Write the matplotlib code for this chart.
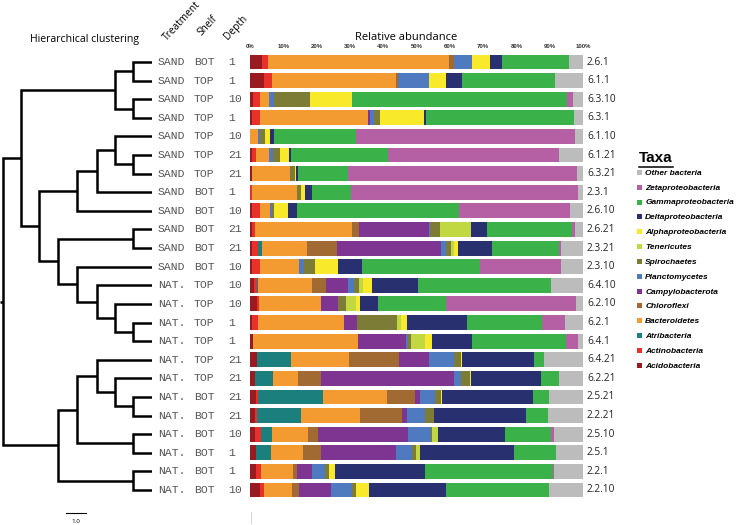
import numpy as np
import matplotlib.pyplot as plt
from matplotlib.lines import Line2D
import matplotlib.transforms as mtransforms

# sample labels, top to bottom (same order as the dendrogram leaves)
treatment = ["SAND"] * 12 + ["NAT."] * 12
shelf = ["BOT", "TOP", "TOP", "TOP", "TOP", "TOP", "TOP", "BOT", "BOT", "BOT", "BOT", "BOT",
         "TOP", "TOP", "TOP", "TOP", "TOP", "TOP", "BOT", "BOT", "BOT", "BOT", "BOT", "BOT"]
depth = ["1", "1", "10", "1", "10", "21", "21", "1", "10", "21", "21", "10",
         "10", "10", "1", "1", "21", "21", "21", "21", "10", "1", "1", "10"]
sample_id = ["2.6.1", "6.1.1", "6.3.10", "6.3.1", "6.1.10", "6.1.21", "6.3.21", "2.3.1",
             "2.6.10", "2.6.21", "2.3.21", "2.3.10", "6.4.10", "6.2.10", "6.2.1", "6.4.1",
             "6.4.21", "6.2.21", "2.5.21", "2.2.21", "2.5.10", "2.5.1", "2.2.1", "2.2.10"]

# relative abundance (%) per taxon, one value per sample
acidobacteria = [3.5, 4.3, 1.0, 0.5, 0, 0.5, 0.5, 0, 0.5, 0.5, 0.7, 0.5,
                 1.3, 2.0, 0.5, 1.0, 2.0, 1.5, 1.7, 1.5, 1.5, 1.8, 1.7, 3.0]
actinobacteria = [2.0, 2.4, 2.0, 2.5, 0, 1.3, 0, 0.5, 2.5, 1.0, 1.8, 2.5,
                  0.7, 0.7, 1.8, 0, 0, 0, 0.8, 0.5, 1.7, 0, 1.6, 1.2]
atribacteria = [0, 0, 0, 0, 0, 0, 0, 0, 0, 0, 1.2, 0,
                0.5, 0, 0, 0, 10.2, 5.5, 19.3, 13.3, 3.3, 4.4, 0, 0]
bacteroidetes = [54.3, 37.1, 2.7, 32.5, 2.3, 3.9, 11.5, 13.5, 3.0, 29.2, 13.3, 11.7,
                 16.2, 18.6, 25.9, 31.5, 17.5, 7.5, 19.4, 17.7, 10.8, 9.6, 9.7, 8.5]
chloroflexi = [1.5, 0.5, 0, 0, 0, 0, 0, 0, 0, 2.0, 9.2, 0,
               4.1, 0, 0, 0, 15.0, 6.8, 8.3, 12.7, 3.0, 5.5, 1.0, 2.1]
campylobacterota = [0, 0, 0, 0.5, 0, 0, 0, 0, 0, 21.0, 31.3, 0,
                    6.7, 5.2, 4.0, 14.3, 9.0, 39.9, 1.5, 1.3, 27.2, 22.5, 4.5, 9.5]
planctomycetes = [5.4, 9.4, 1.5, 1.2, 0.7, 1.3, 0, 0, 0.7, 0.3, 1.5, 1.6,
                  1.8, 0, 0, 0.7, 7.6, 2.1, 4.7, 5.7, 6.8, 4.9, 4.0, 6.2]
spirochaetes = [0, 0, 10.8, 1.8, 1.5, 2.0, 1.5, 1.3, 0.6, 3.0, 1.3, 3.2,
                1.4, 2.3, 12.0, 0.8, 2.2, 2.7, 1.6, 2.5, 0.5, 1.0, 1.2, 1.3]
tenericutes = [0, 0, 0, 0, 0, 0, 0, 0, 0, 9.5, 1.0, 0,
               1.3, 3.0, 1.0, 4.2, 0, 0, 0, 0, 1.7, 1.3, 0, 0]
alphaproteobacteria = [5.3, 5.2, 12.5, 13.2, 1.5, 2.7, 0.3, 1.2, 4.2, 0, 1.2, 7.0,
                       2.7, 1.2, 2.0, 2.2, 0.2, 0.3, 0.5, 0, 0, 0, 1.8, 3.9]
deltaproteobacteria = [3.8, 4.8, 0, 0.8, 1.2, 0.6, 0.7, 2.0, 2.5, 4.6, 10.2, 7.2,
                       13.8, 5.5, 17.9, 12.0, 21.6, 21.2, 27.2, 27.6, 20.2, 28.3, 27.0, 23.3]
gammaproteobacteria = [19.9, 27.8, 64.8, 44.3, 24.5, 29.2, 14.8, 11.8, 48.8, 25.6, 20.0, 35.5,
                       39.8, 20.3, 22.7, 28.1, 2.9, 5.2, 4.8, 6.7, 13.6, 12.7, 38.5, 30.8]
zetaproteobacteria = [0, 0, 1.7, 0, 65.8, 51.4, 69.0, 68.2, 33.2, 1.0, 0.6, 24.3,
                      0, 39.0, 6.7, 3.7, 0, 0, 0, 0, 0.9, 0, 0.3, 0]
other_bacteria = [4.3, 8.5, 3.0, 2.7, 2.5, 7.1, 1.7, 1.5, 4.0, 2.3, 6.7, 6.5,
                  9.7, 2.2, 5.5, 1.5, 11.8, 7.3, 10.2, 10.5, 8.8, 8.0, 8.7, 10.2]

taxa = ["Acidobacteria", "Actinobacteria", "Atribacteria", "Bacteroidetes", "Chloroflexi",
        "Campylobacterota", "Planctomycetes", "Spirochaetes", "Tenericutes",
        "Alphaproteobacteria", "Deltaproteobacteria", "Gammaproteobacteria",
        "Zetaproteobacteria", "Other bacteria"]
colors = ["#9a1b1f", "#e8312b", "#1b7f7e", "#f39a31", "#a06a32", "#7e3591", "#4f7ac0",
          "#7d7c37", "#c2d842", "#f8ea2a", "#29306f", "#3bb14a", "#b55fa4", "#bcbcbc"]
values = [acidobacteria, actinobacteria, atribacteria, bacteroidetes, chloroflexi,
          campylobacterota, planctomycetes, spirochaetes, tenericutes, alphaproteobacteria,
          deltaproteobacteria, gammaproteobacteria, zetaproteobacteria, other_bacteria]

# linkage: (cluster a, cluster b, height), leaves are 0..23, new clusters numbered from 24
linkage = [(0, 1, 0.95), (2, 3, 0.95), (24, 25, 1.85), (5, 6, 0.95), (4, 27, 1.85),
           (28, 7, 2.75), (29, 8, 3.75), (9, 10, 0.95), (14, 15, 0.95), (13, 32, 1.85),
           (12, 33, 2.75), (11, 34, 3.75), (31, 35, 4.7), (30, 36, 5.65), (26, 37, 6.55),
           (18, 19, 0.95), (17, 39, 1.85), (16, 40, 2.75), (20, 21, 0.95), (41, 42, 3.75),
           (22, 23, 0.95), (43, 44, 4.7), (38, 45, 7.45)]

n = len(sample_id)
rows = np.arange(n)

fig = plt.figure(figsize=(7.4, 5.25), dpi=100)
W, H = 740, 525
bot = 1 - 499.3 / H
hgt = 446.6 / H
ax = fig.add_axes([250 / W, bot, 333 / W, hgt])
axt = fig.add_axes([0, bot, 152 / W, hgt])

# stacked bars
left = np.zeros(n)
for name, col, vals in zip(taxa, colors, values):
    v = np.array(vals, dtype=float)
    ax.barh(rows, v, left=left, height=0.8, color=col, linewidth=0, label=name)
    left += v

ax.set_xlim(0, 100)
ax.set_ylim(n - 0.5, -0.5)
ax.set_yticks([])
ax.xaxis.tick_top()
ax.set_xticks(np.arange(0, 101, 10))
ax.set_xticklabels([f"{t}%" for t in range(0, 101, 10)], fontsize=4.3,
                   fontweight="bold", color="#333333", family="Liberation Sans")
ax.tick_params(axis="x", length=0, pad=3)
for s in ax.spines.values():
    s.set_visible(False)
ax.set_title("Relative abundance", fontsize=8, family="Open Sans", pad=9, x=0.47)
ax.plot([0.3, 0.3], [n + 0.2, n + 0.75], color="#cccccc", lw=0.6, clip_on=False)

# dendrogram
pos = {i: (0.0, float(i)) for i in range(n)}
for k, (a, b, h) in enumerate(linkage):
    ha, ya = pos[a]
    hb, yb = pos[b]
    axt.plot([ha, h, h, hb], [ya, ya, yb, yb], color="black", lw=1.8,
             solid_joinstyle="miter", solid_capstyle="butt")
    pos[n + k] = (h, (ya + yb) / 2)
root_h, root_y = pos[n + len(linkage) - 1]
axt.plot([root_h, 7.6], [root_y, root_y], color="black", lw=1.8, solid_capstyle="butt")
axt.set_xlim(7.6, 0)
axt.set_ylim(n - 0.5, -0.5)
axt.axis("off")

# scale bar
axt.plot([4.3, 3.3], [24.25, 24.25], color="black", lw=0.8, clip_on=False)
axt.text(3.8, 24.55, "1.0", fontsize=4.5, ha="center", va="top", family="Open Sans")

# sample labels
tr = mtransforms.blended_transform_factory(fig.transFigure, ax.transData)
for i in rows:
    kw = dict(transform=tr, va="center", fontsize=8.2, family="Liberation Mono",
              color="#555555")
    fig.text(158 / W, i, treatment[i], **kw)
    fig.text(194 / W, i, shelf[i], **kw)
    fig.text(228 / W, i, depth[i], **kw)
    fig.text(587 / W, i, sample_id[i], transform=tr, va="center", fontsize=7.3,
             family="Open Sans", color="#222222")

# headers
fig.text(30 / W, 1 - 42 / H, "Hierarchical clustering", fontsize=7.6, family="Open Sans")
for txt, x0, y0 in [("Treatment", 167, 41), ("Shelf", 201, 36), ("Depth", 228, 40)]:
    fig.text(x0 / W, 1 - y0 / H, txt, fontsize=7.3, family="Open Sans", rotation=47,
             rotation_mode="anchor", ha="left", va="baseline")

# legend
handles = [Line2D([], [], marker="s", ls="none", markersize=3.6, markeredgewidth=0,
                  color=c) for c in colors[::-1]]
leg = fig.legend(handles, taxa[::-1], loc="upper left",
                 bbox_to_anchor=(636 / W, 1 - 169 / H), frameon=False,
                 prop={"family": "Liberation Sans", "weight": "bold", "style": "italic",
                       "size": 6}, handlelength=0.6, handletextpad=0.5,
                 labelspacing=0.84, borderaxespad=0, borderpad=0)
tx = fig.text(639 / W, 1 - 162 / H, "Taxa", fontsize=11, fontweight="bold",
              family="Liberation Sans")
fig.canvas.draw()
bb = tx.get_window_extent().transformed(fig.transFigure.inverted())
fig.add_artist(Line2D([bb.x0, bb.x1], [bb.y0 - 2 / H, bb.y0 - 2 / H],
                      transform=fig.transFigure, color="black", lw=1.1))

fig.savefig("out.png", dpi=100)
